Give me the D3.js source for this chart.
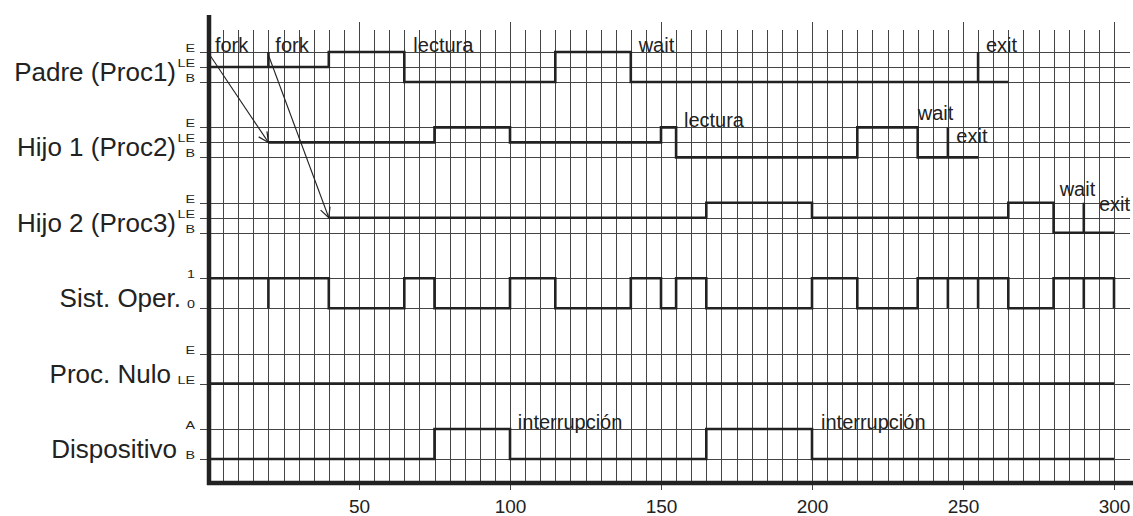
<!DOCTYPE html>
<html lang="es">
<head>
<meta charset="utf-8">
<script src="https://cdn.jsdelivr.net/npm/d3@7"></script>
<style>
  body { margin: 0; background: #fff; }
  svg text { font-family: "Liberation Sans", Arial, sans-serif; fill: #222; }
  .grid line { stroke: #444; stroke-width: 1; shape-rendering: crispEdges; }
  .signal { fill: none; stroke: #222; stroke-width: 2.6; }
  .arrow { stroke: #222; stroke-width: 1.1; fill: none; }
</style>
</head>
<body>
<div id="chart"></div>
<script>
// ---- data ----
var rows = ["Padre (Proc1)", "Hijo 1 (Proc2)", "Hijo 2 (Proc3)", "Sist. Oper.", "Proc. Nulo", "Dispositivo"];

// state labels of each row, top to bottom (first = top line, last = bottom line)
var rowStates = [
  ["E", "LE", "B"],
  ["E", "LE", "B"],
  ["E", "LE", "B"],
  ["1", "0"],
  ["E", "LE"],
  ["A", "B"]
];

// step signals: [time, state]
var padre = [[0,"LE"],[20,"E"],[20,"LE"],[40,"E"],[65,"B"],[115,"E"],[140,"B"],[255,"E"],[255,"B"],[265,"B"]];
var hijo1 = [[20,"LE"],[75,"E"],[100,"LE"],[150,"E"],[155,"B"],[215,"E"],[235,"B"],[245,"E"],[245,"B"],[255,"B"]];
var hijo2 = [[40,"LE"],[165,"E"],[200,"LE"],[265,"E"],[280,"B"],[290,"E"],[290,"B"],[300,"B"]];
var sistOper = [[0,"1"],[20,"0"],[20,"1"],[40,"0"],[65,"1"],[75,"0"],[100,"1"],[115,"0"],[140,"1"],[150,"0"],
                [155,"1"],[165,"0"],[200,"1"],[215,"0"],[235,"1"],[245,"0"],[245,"1"],[255,"0"],[255,"1"],
                [265,"0"],[280,"1"],[290,"0"],[290,"1"],[300,"0"]];
var procNulo = [[0,"LE"],[300,"LE"]];
var dispositivo = [[0,"B"],[75,"A"],[100,"B"],[165,"A"],[200,"B"],[300,"B"]];
var signals = [padre, hijo1, hijo2, sistOper, procNulo, dispositivo];

// annotations: row index, time where text starts, level (0 = top line, 1 = middle, 2 = bottom)
var notes = [
  [0, 2.3, 0, "fork"], [0, 22.3, 0, "fork"], [0, 68, 0, "lectura"], [0, 142.6, 0, "wait"], [0, 257.6, 0, "exit"],
  [1, 157.6, 0, "lectura"], [1, 235, -0.47, "wait"], [1, 247.8, 1.05, "exit"],
  [2, 282, -0.47, "wait"], [2, 295, 0.53, "exit"],
  [5, 102.6, 0, "interrupción"], [5, 203, 0, "interrupción"]
];

// fork arrows: [from row, from time, to row, to time]
var forks = [[0, 0.6, 1, 20], [0, 20, 2, 40]];

var xTicks = [50, 100, 150, 200, 250, 300];

// ---- layout ----
var W = 1133, H = 516;
var x = d3.scaleLinear().domain([0, 300]).range([208, 1114]);
var yRow = d3.scalePoint().domain(rows).range([52, 429]);
var yLevel = d3.scaleLinear().domain([0, 2]).range([0, 30]);
var nameRight = [176, 176, 176, 181, 171, 177]; // right edge of each row name

function levelOf(r, s) {
  var st = rowStates[r];
  return st.length === 3 ? st.indexOf(s) : st.indexOf(s) * 2;
}
function yOf(r, lev) { return yRow(rows[r]) + yLevel(lev); }

var svg = d3.select("#chart").append("svg")
  .attr("width", W).attr("height", H);

var defs = svg.append("defs");
defs.append("marker")
  .attr("id", "head").attr("viewBox", "0 0 12 12")
  .attr("refX", 11).attr("refY", 6)
  .attr("markerWidth", 12).attr("markerHeight", 12)
  .attr("markerUnits", "userSpaceOnUse")
  .attr("orient", "auto")
  .append("path").attr("d", "M1,1 L11,6 L1,11")
  .attr("fill", "none").attr("stroke", "#222").attr("stroke-width", 1.2);

// vertical grid every 5 units
var grid = svg.append("g").attr("class", "grid");
grid.selectAll("line.v")
  .data(d3.range(5, 301, 5))
  .enter().append("line")
  .attr("x1", function(d) { return Math.round(x(d)) + 0.5; })
  .attr("x2", function(d) { return Math.round(x(d)) + 0.5; })
  .attr("y1", function(d) { return d % 50 === 0 ? 22 : 30; })
  .attr("y2", function(d) { return d % 50 === 0 ? 490 : 483; });

// horizontal level lines for every row
var levelLines = [];
rowStates.forEach(function(st, r) {
  st.forEach(function(s) { levelLines.push({ r: r, s: s, lev: levelOf(r, s) }); });
});
grid.selectAll("line.h")
  .data(levelLines)
  .enter().append("line")
  .attr("x1", 200).attr("x2", x(300) + 16)
  .attr("y1", function(d) { return Math.round(yOf(d.r, d.lev)) + 0.5; })
  .attr("y2", function(d) { return Math.round(yOf(d.r, d.lev)) + 0.5; });

// state labels (small, wide)
svg.selectAll("text.state")
  .data(levelLines)
  .enter().append("text")
  .attr("class", "state")
  .attr("transform", function(d) { return "translate(195," + (yOf(d.r, d.lev)) + ") scale(1.3,1)"; })
  .attr("text-anchor", "end")
  .style("font-size", "11px")
  .text(function(d) { return d.s; });

// row names
svg.selectAll("text.row")
  .data(rows)
  .enter().append("text")
  .attr("class", "row")
  .attr("x", function(d, i) { return nameRight[i]; })
  .attr("y", function(d, i) { return yOf(i, 2) - 1; })
  .attr("text-anchor", "end")
  .style("font-size", "26px")
  .text(function(d) { return d; });

// axes
svg.append("line")
  .attr("x1", x(0) + 1).attr("x2", x(0) + 1)
  .attr("y1", 15).attr("y2", 485)
  .attr("stroke", "#222").attr("stroke-width", 4.5);
svg.append("line")
  .attr("x1", x(0) - 1).attr("x2", W)
  .attr("y1", 483).attr("y2", 483)
  .attr("stroke", "#222").attr("stroke-width", 4.5);

var xAxis = d3.axisBottom(x).tickValues(xTicks).tickSize(0).tickPadding(0);
var gx = svg.append("g").attr("transform", "translate(0,483)").call(xAxis);
gx.select(".domain").remove();
gx.selectAll("text")
  .attr("y", 30).attr("dy", 0)
  .style("font-size", "19px")
  .style("font-family", "'Liberation Sans', Arial, sans-serif")
  .attr("fill", "#222");

// signals
var line = d3.line().curve(d3.curveStepAfter);
svg.selectAll("path.signal")
  .data(signals)
  .enter().append("path")
  .attr("class", "signal")
  .attr("d", function(d, r) {
    return line(d.map(function(p) { return [x(p[0]), yOf(r, levelOf(r, p[1]))]; }));
  });

// fork arrows
svg.selectAll("line.arrow")
  .data(forks)
  .enter().append("line")
  .attr("class", "arrow")
  .attr("x1", function(d) { return x(d[1]); })
  .attr("y1", function(d) { return yOf(d[0], 0.2); })
  .attr("x2", function(d) { return x(d[3]); })
  .attr("y2", function(d) { return yOf(d[2], 1); })
  .attr("marker-end", "url(#head)");

// annotations
svg.selectAll("text.note")
  .data(notes)
  .enter().append("text")
  .attr("class", "note")
  .attr("x", function(d) { return x(d[1]); })
  .attr("y", function(d) { return yOf(d[0], d[2]); })
  .style("font-size", "20px")
  .text(function(d) { return d[3]; });
</script>
</body>
</html>
